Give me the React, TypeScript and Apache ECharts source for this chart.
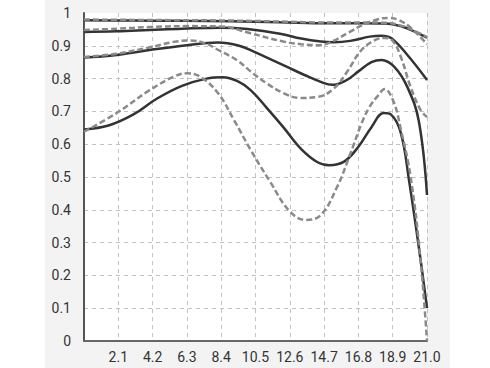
import React, { useEffect, useRef } from "react";
import * as echarts from "echarts";

const xTicks = [0, 2.1, 4.2, 6.3, 8.4, 10.5, 12.6, 14.7, 16.8, 18.9, 21.0];

const solid1: [number, number][] = [
  [0, 0.978], [3, 0.977], [6, 0.976], [9, 0.975], [12, 0.972], [15, 0.969], [17, 0.969],
  [18.5, 0.968], [19.5, 0.958], [20.3, 0.942], [21, 0.925],
];
const dashed1: [number, number][] = [
  [0, 0.98], [3, 0.979], [6, 0.978], [9, 0.977], [12, 0.974], [15, 0.971], [17, 0.971],
  [18.5, 0.97], [19.5, 0.96], [20.3, 0.944], [21, 0.927],
];
const solid2: [number, number][] = [
  [0, 0.942], [2, 0.944], [4, 0.948], [6, 0.952], [8.4, 0.955], [10, 0.951], [12, 0.937],
  [13.3, 0.922], [14.5, 0.913], [15.3, 0.911], [16.3, 0.915], [17.5, 0.928], [18.2, 0.931],
  [18.8, 0.924], [19.8, 0.872], [21, 0.796],
];
const dashed2: [number, number][] = [
  [0, 0.948], [2, 0.952], [4, 0.957], [6.3, 0.96], [8.4, 0.959], [10.2, 0.938], [12.2, 0.913],
  [13.3, 0.905], [14.3, 0.902], [15, 0.909], [16.3, 0.943], [17, 0.962], [18, 0.981],
  [18.7, 0.985], [19.3, 0.978], [20, 0.955], [21, 0.905],
];
const solid3: [number, number][] = [
  [0, 0.864], [2, 0.872], [4, 0.887], [6.3, 0.902], [8.2, 0.91], [9.5, 0.9], [10.5, 0.88],
  [11.5, 0.857], [12.5, 0.834], [13.5, 0.811], [14.5, 0.79], [15.2, 0.781], [16.1, 0.796],
  [16.8, 0.822], [17.6, 0.85], [18.2, 0.857], [19, 0.836], [19.8, 0.774], [20.5, 0.67],
  [21, 0.445],
];
const dashed3: [number, number][] = [
  [0, 0.866], [2, 0.876], [4, 0.895], [5.5, 0.912], [6.5, 0.916], [7.4, 0.908], [8.2, 0.888],
  [9.4, 0.855], [10.2, 0.822], [11.2, 0.785], [12.2, 0.756], [13.2, 0.741], [14.3, 0.744],
  [15.3, 0.77], [16.1, 0.82], [16.95, 0.885], [17.8, 0.917], [18.4, 0.924], [18.9, 0.915],
  [19.4, 0.866], [20, 0.774], [20.6, 0.705], [21, 0.683],
];
const solid4: [number, number][] = [
  [0, 0.645], [1.5, 0.657], [3, 0.69], [4.5, 0.74], [6, 0.778], [7.5, 0.8], [8.5, 0.804],
  [9.4, 0.792], [10.2, 0.765], [11.2, 0.71], [12.2, 0.652], [13.3, 0.585], [14.3, 0.545],
  [15, 0.536], [15.9, 0.546], [16.8, 0.592], [17.6, 0.652], [18.35, 0.695], [18.8, 0.69],
  [19.4, 0.634], [19.9, 0.49], [20.6, 0.25], [21, 0.1],
];
const dashed4: [number, number][] = [
  [0, 0.638], [2, 0.695], [4, 0.764], [5.5, 0.806], [6.3, 0.816], [7.1, 0.806],
  [8.2, 0.756], [9.2, 0.672], [10.2, 0.583], [11.4, 0.485], [12.6, 0.395], [13.6, 0.369],
  [14.5, 0.384], [15.5, 0.47], [16.3, 0.57], [17, 0.664], [17.5, 0.715], [18, 0.748],
  [18.4, 0.768], [18.95, 0.73], [19.4, 0.645], [20, 0.5], [20.6, 0.25], [21, 0.0],
];

const SOLID = "#333333";
const DASHED = "#8a8a8a";

export default function App() {
  const ref = useRef<HTMLDivElement>(null);
  useEffect(() => {
    document.body.style.margin = "0";
    const chart = echarts.init(ref.current!, null, { renderer: "svg" });
    const solid = (name: string, data: [number, number][]) => ({
      name,
      type: "line",
      data,
      smooth: 0.4,
      symbol: "none",
      lineStyle: { color: SOLID, width: 2.5 },
      z: 3,
    });
    const dashed = (name: string, data: [number, number][]) => ({
      name,
      type: "line",
      data,
      smooth: 0.4,
      symbol: "none",
      lineStyle: { color: DASHED, width: 2.5, type: [6, 3] },
      z: 4,
    });
    const L = 84, R = 427, T = 13, B = 341;
    chart.setOption({
      animation: false,
      backgroundColor: "#ffffff",
      graphic: [
        { type: "rect", shape: { x: 45, y: 0, width: 405, height: T }, style: { fill: "#f3f3f3" }, silent: true },
        { type: "rect", shape: { x: 45, y: B, width: 405, height: 368 - B }, style: { fill: "#f3f3f3" }, silent: true },
        { type: "rect", shape: { x: 45, y: T, width: L - 45, height: B - T }, style: { fill: "#f3f3f3" }, silent: true },
        { type: "rect", shape: { x: R, y: T, width: 450 - R, height: B - T }, style: { fill: "#f3f3f3" }, silent: true },
      ],
      grid: { left: L, right: 490 - R, top: T, bottom: 368 - B, containLabel: false },
      xAxis: {
        type: "value",
        min: 0,
        max: 21,
        interval: 2.1,
        axisLine: { show: true, lineStyle: { color: "#666", width: 2 } },
        axisTick: { show: false },
        axisLabel: {
          color: "#333",
          fontSize: 14,
          fontFamily: "Roboto",
          margin: 9,
          formatter: (v: number) => (v === 0 ? "" : xTicks.find((t) => Math.abs(t - v) < 1e-6)?.toFixed(1) ?? v.toFixed(1)),
        },
        splitLine: { show: true, showMinLine: false, lineStyle: { color: "#c2c2c2", type: [4, 4], width: 1 } },
      },
      yAxis: {
        type: "value",
        min: 0,
        max: 1,
        interval: 0.1,
        axisLine: { show: true, lineStyle: { color: "#555", width: 2 } },
        axisTick: { show: false },
        axisLabel: {
          color: "#333",
          fontSize: 14,
          fontFamily: "Roboto",
          margin: 13,
          formatter: (v: number) => (v === 0 ? "0" : Math.abs(v - 1) < 1e-6 ? "1" : v.toFixed(1)),
        },
        splitLine: { show: true, showMinLine: false, showMaxLine: false, lineStyle: { color: "#c2c2c2", type: [4, 4], width: 1 } },
      },
      series: [
        solid("S1", solid1),
        solid("S2", solid2),
        solid("S3", solid3),
        solid("S4", solid4),
        dashed("M1", dashed1),
        dashed("M2", dashed2),
        dashed("M3", dashed3),
        dashed("M4", dashed4),
      ],
    });
    return () => chart.dispose();
  }, []);
  return <div ref={ref} style={{ position: "fixed", left: 0, top: 0, width: 490, height: 368 }} />;
}
